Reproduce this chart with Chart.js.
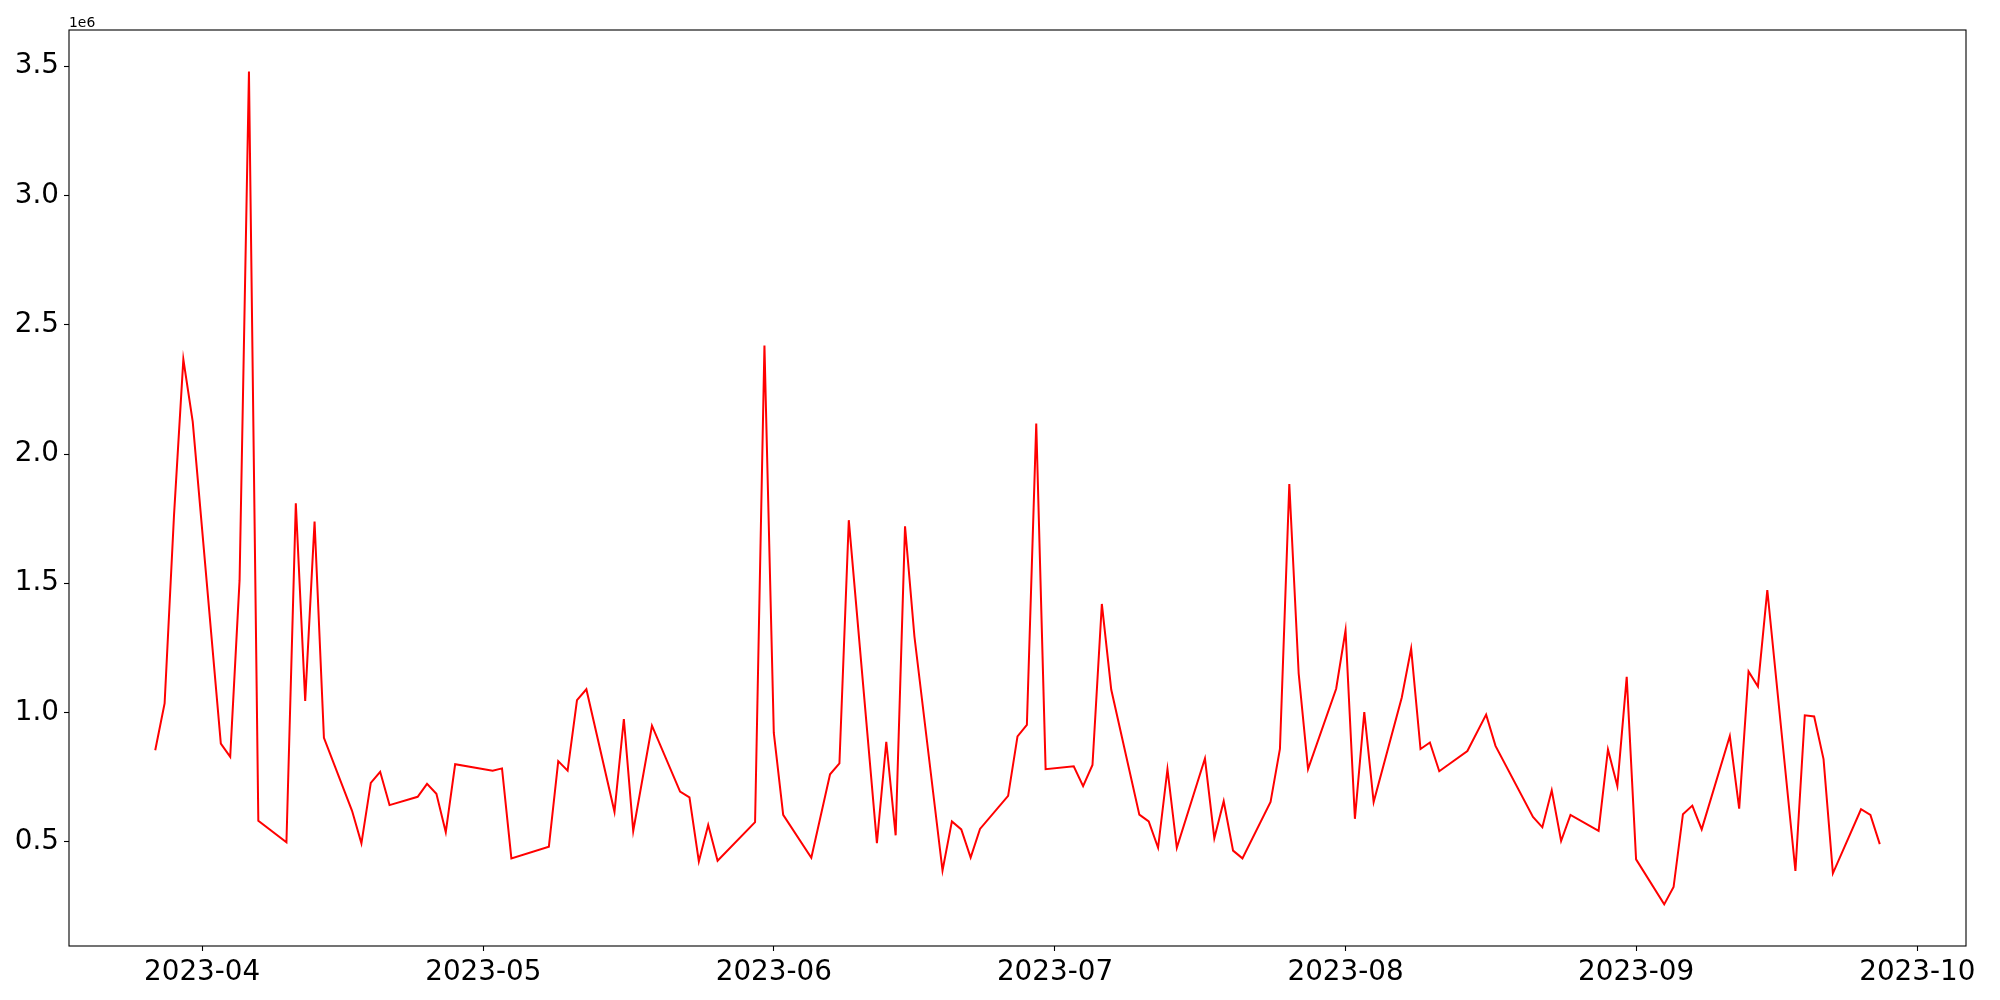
<!DOCTYPE html>
<html>
<head>
<meta charset="utf-8">
<script src="https://cdn.jsdelivr.net/npm/chart.js@4.4.0/dist/chart.umd.min.js"></script>
<style>
	body { margin: 0; background: #fff; }
	canvas { display: block; }
</style>
</head>
<body>
<canvas id="chart-main" width="2000" height="1000"></canvas>
<script>

/* Data */

var dates = [
	"2023-03-27", "2023-03-28", "2023-03-29", "2023-03-30", "2023-03-31",
	"2023-04-03", "2023-04-04", "2023-04-05", "2023-04-06", "2023-04-07",
	"2023-04-10", "2023-04-11", "2023-04-12", "2023-04-13", "2023-04-14",
	"2023-04-17", "2023-04-18", "2023-04-19", "2023-04-20", "2023-04-21",
	"2023-04-24", "2023-04-25", "2023-04-26", "2023-04-27", "2023-04-28",
	"2023-05-02", "2023-05-03", "2023-05-04",
	"2023-05-08", "2023-05-09", "2023-05-10", "2023-05-11", "2023-05-12",
	"2023-05-15", "2023-05-16", "2023-05-17", "2023-05-19",
	"2023-05-22", "2023-05-23", "2023-05-24", "2023-05-25", "2023-05-26",
	"2023-05-30", "2023-05-31", "2023-06-01", "2023-06-02",
	"2023-06-05", "2023-06-07", "2023-06-08", "2023-06-09",
	"2023-06-12", "2023-06-13", "2023-06-14", "2023-06-15", "2023-06-16",
	"2023-06-19", "2023-06-20", "2023-06-21", "2023-06-22", "2023-06-23",
	"2023-06-26", "2023-06-27", "2023-06-28", "2023-06-29", "2023-06-30",
	"2023-07-03", "2023-07-04", "2023-07-05", "2023-07-06", "2023-07-07",
	"2023-07-10", "2023-07-11", "2023-07-12", "2023-07-13", "2023-07-14",
	"2023-07-17", "2023-07-18", "2023-07-19", "2023-07-20", "2023-07-21",
	"2023-07-24", "2023-07-25", "2023-07-26", "2023-07-27", "2023-07-28",
	"2023-07-31", "2023-08-01", "2023-08-02", "2023-08-03", "2023-08-04",
	"2023-08-07", "2023-08-08", "2023-08-09", "2023-08-10", "2023-08-11",
	"2023-08-14", "2023-08-16", "2023-08-17",
	"2023-08-21", "2023-08-22", "2023-08-23", "2023-08-24", "2023-08-25",
	"2023-08-28", "2023-08-29", "2023-08-30", "2023-08-31", "2023-09-01",
	"2023-09-04", "2023-09-05", "2023-09-06", "2023-09-07", "2023-09-08",
	"2023-09-11", "2023-09-12", "2023-09-13", "2023-09-14", "2023-09-15",
	"2023-09-18", "2023-09-19", "2023-09-20", "2023-09-21", "2023-09-22",
	"2023-09-25", "2023-09-26", "2023-09-27"
];

var values = [
	854000, 1035000, 1760000, 2366000, 2125000,
	880000, 829000, 1512000, 3479000, 581000,
	498000, 1809000, 1045000, 1739000, 902000,
	620000, 494000, 728000, 771000, 642000,
	674000, 724000, 686000, 537000, 800000,
	775000, 784000, 436000,
	481000, 812000, 775000, 1048000, 1090000,
	616000, 975000, 542000, 949000,
	694000, 672000, 424000, 565000, 427000,
	576000, 2420000, 921000, 604000,
	438000, 761000, 803000, 1744000,
	495000, 887000, 525000, 1720000, 1295000,
	389000, 579000, 548000, 439000, 550000,
	678000, 908000, 952000, 2118000, 781000,
	792000, 715000, 797000, 1420000, 1089000,
	605000, 579000, 477000, 781000, 477000,
	822000, 514000, 657000, 466000, 436000,
	654000, 859000, 1884000, 1151000, 781000,
	1092000, 1318000, 589000, 1002000, 654000,
	1058000, 1247000, 859000, 884000, 773000,
	851000, 992000, 871000,
	596000, 556000, 699000, 503000, 604000,
	542000, 857000, 716000, 1138000, 432000,
	258000, 325000, 607000, 640000, 548000,
	909000, 628000, 1159000, 1101000, 1474000,
	387000, 989000, 985000, 820000, 378000,
	626000, 604000, 491000
];

var xTickLabels = [ "2023-04", "2023-05", "2023-06", "2023-07", "2023-08", "2023-09", "2023-10" ];
var yTickValues = [ 500000, 1000000, 1500000, 2000000, 2500000, 3000000, 3500000 ];

/* Helpers */

function toTime( s ) {
	var p = s.split("-");
	return Date.UTC( +p[0], +p[1] - 1, p[2] ? +p[2] : 1 );
}

var points = dates.map(function( d, i ) {
	return { x: toTime( d ), y: values[i] };
});

var xFirst = points[0].x, xLast = points[points.length - 1].x;
var xPad = ( xLast - xFirst ) * 0.05;
var yMin = Math.min.apply( null, values ), yMax = Math.max.apply( null, values );
var yPad = ( yMax - yMin ) * 0.05;

var xTickValues = xTickLabels.map( toTime );

var tickFont = { family: "DejaVu Sans", size: 27.8 };

/* Frame + offset text */

var framePlugin = {
	id: "frame",
	afterDraw: function( chart ) {
		var ctx = chart.ctx, a = chart.chartArea;
		ctx.save();
		ctx.strokeStyle = "#000";
		ctx.lineWidth = 1.1;
		ctx.strokeRect( a.left, a.top, a.right - a.left, a.bottom - a.top );
		ctx.fillStyle = "#000";
		ctx.font = "13.9px 'DejaVu Sans'";
		ctx.textAlign = "left";
		ctx.textBaseline = "bottom";
		ctx.fillText( "1e6", a.left, a.top );
		ctx.restore();
	}
};

/* Chart */

var ctxmain = document.getElementById("chart-main").getContext('2d');
var myChart = new Chart(ctxmain, {
	type: 'line',
	data: {
		datasets: [{
			data: points,
			borderColor: 'rgb(255, 0, 0)',
			borderWidth: 2,
			pointRadius: 0,
			tension: 0,
			fill: false
		}]
	},
	options: {
		responsive: false,
		animation: false,
		devicePixelRatio: 1,
		layout: { padding: { top: 30, right: 34, left: 0, bottom: 0 } },
		plugins: { legend: { display: false }, tooltip: { enabled: false } },
		scales: {
			x: {
				type: 'linear',
				min: xFirst - xPad,
				max: xLast + xPad,
				afterBuildTicks: function( scale ) {
					scale.ticks = xTickValues.map(function( v ) { return { value: v }; });
				},
				afterFit: function( scale ) { scale.height = 54; },
				grid: { display: true, drawOnChartArea: false, drawTicks: true, tickLength: 5, tickWidth: 1.1, tickColor: '#000' },
				border: { display: false },
				ticks: {
					padding: 5,
					color: '#000',
					font: tickFont,
					maxRotation: 0,
					autoSkip: false,
					callback: function( v ) {
						var i = xTickValues.indexOf( v );
						return i >= 0 ? xTickLabels[i] : "";
					}
				}
			},
			y: {
				type: 'linear',
				min: yMin - yPad,
				max: yMax + yPad,
				afterBuildTicks: function( scale ) {
					scale.ticks = yTickValues.map(function( v ) { return { value: v }; });
				},
				afterFit: function( scale ) { scale.width = 69; },
				grid: { display: true, drawOnChartArea: false, drawTicks: true, tickLength: 5, tickWidth: 1.1, tickColor: '#000' },
				border: { display: false },
				ticks: {
					padding: 5,
					color: '#000',
					font: tickFont,
					autoSkip: false,
					callback: function( v ) { return ( v / 1e6 ).toFixed(1); }
				}
			}
		}
	},
	plugins: [ framePlugin ]
});

</script>
</body>
</html>
